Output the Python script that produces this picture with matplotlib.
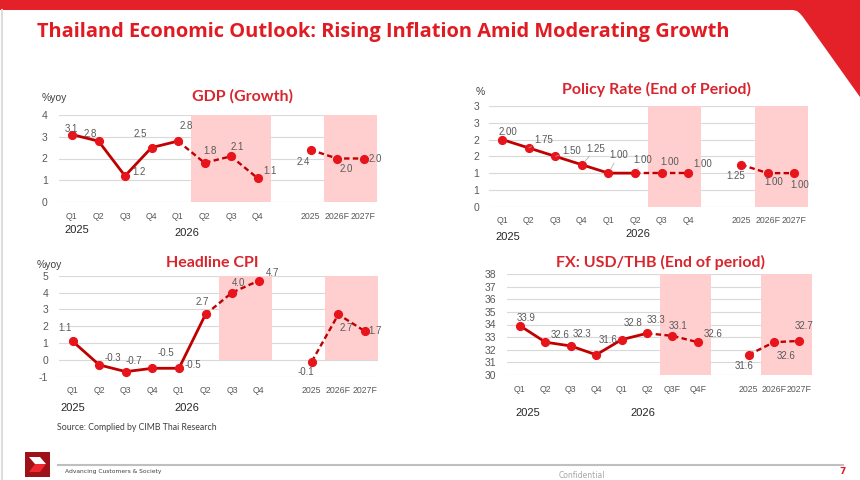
import numpy as np
import matplotlib
matplotlib.use("Agg")
import matplotlib.pyplot as plt
from matplotlib.patches import Polygon

# ---------------- data ----------------
quarter_labels = ['Q1', 'Q2', 'Q3', 'Q4', 'Q1', 'Q2', 'Q3', 'Q4']
fx_quarter_labels = ['Q1', 'Q2', 'Q3', 'Q4', 'Q1', 'Q2', 'Q3F', 'Q4F']
annual_labels = ['2025', '2026F', '2027F']

gdp_q = [3.1, 2.8, 1.2, 2.5, 2.8, 1.8, 2.1, 1.1]
gdp_a = [2.4, 2.0, 2.0]

policy_q = [2.00, 1.75, 1.50, 1.25, 1.00, 1.00, 1.00, 1.00]
policy_a = [1.25, 1.00, 1.00]

cpi_q = [1.1, -0.3, -0.7, -0.5, -0.5, 2.7, 4.0, 4.7]
cpi_a = [-0.1, 2.7, 1.7]

fx_q = [33.9, 32.6, 32.3, 31.6, 32.8, 33.3, 33.1, 32.6]
fx_a = [31.6, 32.6, 32.7]

gdp_yticks = [0, 1, 2, 3, 4]
policy_yticks = [0, 0.5, 1, 1.5, 2, 2.5, 3]
policy_yticklabels = ['0', '1', '1', '2', '2', '3', '3']
cpi_yticks = [-1, 0, 1, 2, 3, 4, 5]
fx_yticks = [30, 31, 32, 33, 34, 35, 36, 37, 38]

# ---------------- style ----------------
W, H = 860, 480
RED = '#E8141B'
DARK = '#C00000'
SHADE = '#FFCFCF'
GRID = '#D9D9D9'
TITLE_RED = '#D7262E'
LABEL_GRAY = '#595959'
NUM_FONT = 'Liberation Sans'
TITLE_FONT = 'Lato'

fig = plt.figure(figsize=(W / 100, H / 100), dpi=100)
fig.patch.set_facecolor('white')

# background overlay axes in pixel coordinates
bg = fig.add_axes([0, 0, 1, 1], zorder=0)
bg.set_xlim(0, W)
bg.set_ylim(H, 0)
bg.axis('off')

top_shape = [(0, 0), (W, 0), (W, 97), (803, 17), (800, 13.5), (797, 11), (793, 10), (0, 10)]
bg.add_patch(Polygon(top_shape, closed=True, color='#E42128', lw=0))
bg.plot([1.5, 1.5], [10, H], color='#DDDDDD', lw=1.5)

main_title = bg.text(37, 32, 'Thailand Economic Outlook: Rising Inflation Amid Moderating Growth',
                     color='#E11B22', fontsize=13.5, fontweight='bold', family='Open Sans',
                     ha='left', va='center')
# fit the title to the reference width (~693 px)
renderer = fig.canvas.get_renderer()
w_now = main_title.get_window_extent(renderer).width
main_title.set_fontsize(13.5 * 693.0 / w_now)

# footer
bg.add_patch(Polygon([(25, 452), (50, 452), (50, 477), (25, 477)], color='#9E1118', lw=0))
bg.add_patch(Polygon([(29, 457), (40, 457), (46, 464), (35, 464)], color='white', lw=0))
bg.add_patch(Polygon([(35, 464), (46, 464), (40, 472), (29, 472)], color='#F0282D', lw=0))
bg.plot([58, 843], [464.5, 464.5], color='#BFBFBF', lw=1.5)
bg.text(65, 471, 'Advancing Customers & Society', fontsize=4.3, color='#404040',
        ha='left', va='center', family='Liberation Sans Narrow')
bg.text(582, 475, 'Confidential', fontsize=5.5, color='#A6A6A6', ha='center', va='center')
bg.text(843, 472, '7', fontsize=6.5, color='#E11B22', ha='center', va='center', fontweight='bold')

xq = np.arange(len(quarter_labels))
xa = np.arange(len(quarter_labels) + 1, len(quarter_labels) + 1 + len(annual_labels))


def panel(rect_px, ylim, yticks, yticklabels, q, a, split, shade_start, qlabels,
          offs_q, offs_a, fmt, ypad, leaders=()):
    x0, x1, ytop, ybot = rect_px
    ax = fig.add_axes([x0 / W, 1 - ybot / H, (x1 - x0) / W, (ybot - ytop) / H], zorder=2)
    ax.set_facecolor('none')
    ax.set_xlim(-0.5, 11.5)
    ax.set_ylim(*ylim)
    for s in ax.spines.values():
        s.set_visible(False)
    ax.set_yticks(yticks)
    ax.set_yticklabels(yticklabels if yticklabels else [str(v) for v in yticks])
    ax.set_xticks(list(xq) + list(xa))
    ax.set_xticklabels(qlabels + annual_labels)
    ax.tick_params(axis='y', length=0, labelsize=7.5, colors=LABEL_GRAY, pad=ypad)
    ax.tick_params(axis='x', length=0, labelsize=6.3, colors=LABEL_GRAY, pad=7)
    for t in ax.get_xticklabels() + ax.get_yticklabels():
        t.set_family(NUM_FONT)
    ax.grid(axis='y', color=GRID, lw=0.8)
    ax.grid(axis='x', visible=False)
    ax.set_axisbelow(True)
    base = max(ylim[0], 0)
    for s0, s1 in [(shade_start, xq[-1] + 0.5), (xa[0] + 0.5, xa[-1] + 0.5)]:
        ax.fill_between([s0, s1], base, ylim[1], color=SHADE, lw=0, zorder=1)
    ax.plot(xq[:split + 1], q[:split + 1], color=DARK, lw=2.0, zorder=3,
            solid_capstyle='round', solid_joinstyle='round')
    ax.plot(xq[split:], q[split:], color=DARK, lw=1.7, ls=(0, (2.3, 1.4)), zorder=3)
    ax.plot(xa, a, color=DARK, lw=1.7, ls=(0, (2.3, 1.4)), zorder=3)
    ax.plot(list(xq) + list(xa), list(q) + list(a), 'o', color=RED, ms=5.6, zorder=4,
            mec=RED)
    for i, (x, v) in enumerate(zip(list(xq) + list(xa), list(q) + list(a))):
        dx, dy = (list(offs_q) + list(offs_a))[i]
        kw = {}
        if i in leaders:
            kw['arrowprops'] = dict(arrowstyle='-', color='#A6A6A6', lw=0.5,
                                    shrinkA=0, shrinkB=3)
        ax.annotate(fmt.format(v), (x, v), xytext=(dx, dy), textcoords='offset pixels',
                    ha='center', va='center', fontsize=7, color=LABEL_GRAY,
                    family=NUM_FONT, zorder=5, **kw)
    return ax


def txt(x, y, s, **kw):
    bg.text(x, y, s, **kw)


title_kw = dict(color=TITLE_RED, fontsize=11.5, fontweight='bold', family=TITLE_FONT,
                ha='center', va='center')
unit_kw = dict(color='#404040', fontsize=7.5, family=NUM_FONT, ha='left', va='center')
year_kw = dict(color='#262626', fontsize=8, family=NUM_FONT, ha='center', va='center')

# GDP panel
panel((58.75, 376.75, 115, 202), (0, 4), gdp_yticks, None, gdp_q, gdp_a, 4, 4.5,
      quarter_labels,
      [(-1, 6), (-8, 7), (14, 4), (-11, 14), (8, 15), (6, 12), (6, 9), (13, 7)],
      [(-7, -12), (9, -11), (12, 0)], '{:.1f}', 8)
txt(242, 96, 'GDP (Growth)', **title_kw)
txt(42, 98, '%yoy', **unit_kw)
txt(77, 230, '2025', **year_kw)
txt(187, 233, '2026', **year_kw)

# Policy rate panel
panel((489, 807.6, 106, 206.7), (0, 3), policy_yticks, policy_yticklabels, policy_q,
      policy_a, 5, 5.5, quarter_labels,
      [(6, 8), (15, 8), (16, 5), (14, 16), (10, 18), (8, 13), (8, 11), (15, 9)],
      [(-6, -11), (6, -9), (5, -12)], '{:.2f}', 7, leaders=(1, 2, 3, 4, 5))
txt(657, 89, 'Policy Rate (End of Period)', **title_kw)
txt(476, 92, '%', **unit_kw)
txt(508, 237, '2025', **year_kw)
txt(638, 234, '2026', **year_kw)

# CPI panel
panel((59.4, 378.2, 275.7, 376.7), (-1, 5), cpi_yticks, None, cpi_q, cpi_a, 5, 5.5,
      quarter_labels,
      [(-8, 13), (14, 7), (8, 11), (13, 15), (14, 3), (-3, 12), (6, 10), (14, 8)],
      [(-6, -10), (8, -14), (10, 0)], '{:.1f}', 8)
txt(212, 263, 'Headline CPI', **title_kw)
txt(37, 265, '%yoy', **unit_kw)
txt(73, 408, '2025', **year_kw)
txt(187, 408, '2026', **year_kw)
txt(57, 428, 'Source: Complied by CIMB Thai Research', color='#404040', fontsize=6.3,
    family=TITLE_FONT, ha='left', va='center')

# FX panel
panel((507.3, 812.1, 274, 375), (30, 38), fx_yticks, None, fx_q, fx_a, 5, 5.5,
      fx_quarter_labels,
      [(6, 8), (15, 7), (11, 12), (12, 15), (11, 17), (9, 13), (6, 10), (15, 8)],
      [(-4, -11), (12, -14), (5, 15)], '{:.1f}', 8)
txt(661, 262, 'FX: USD/THB (End of period)', **title_kw)
txt(528, 413, '2025', **year_kw)
txt(643, 413, '2026', **year_kw)

fig.savefig('out.png', dpi=100, facecolor='white')
